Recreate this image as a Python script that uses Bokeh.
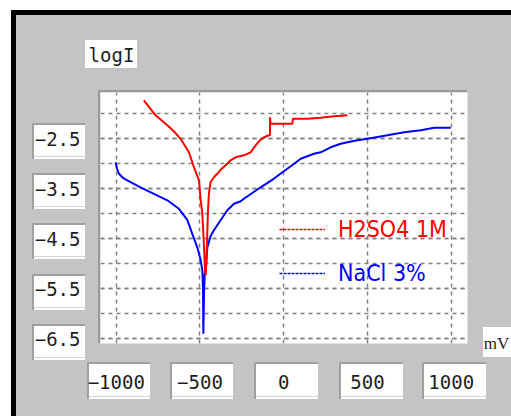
from bokeh.plotting import figure
from bokeh.models import FixedTicker, Label, Legend, LegendItem, Range1d
from bokeh.embed import file_html
from bokeh.resources import INLINE

# ---- data ----
h2so4_mv = [-835, -765, -695, -650, -616, -566, -536, -506, -496, -486, -476, -470, -466,
            -460, -453, -447, -437, -417, -397, -377, -347, -317, -287, -238, -198, -168,
            -140, -118, -88, -82, -82, -78, 0, 51, 55, 141, 220, 300, 380]
h2so4_logi = [-1.73, -2.03, -2.23, -2.37, -2.5, -2.77, -3.07, -3.33, -3.73, -4.0, -4.67, -5.1, -5.23,
              -4.8, -4.0, -3.6, -3.37, -3.27, -3.2, -3.12, -3.03, -2.93, -2.87, -2.83, -2.77, -2.63,
              -2.52, -2.47, -2.43, -2.43, -2.07, -2.2, -2.2, -2.2, -2.1, -2.1, -2.08, -2.05, -2.03]

nacl_mv = [-1004, -995, -984, -960, -934, -855, -775, -695, -626, -576, -546, -516, -496, -486,
           -482, -480, -476, -472, -466, -456, -437, -417, -377, -337, -297, -257, -238, -138,
           -60, -8, 50, 101, 180, 220, 280, 340, 380, 440, 500, 619, 719, 818, 898, 997]
nacl_logi = [-2.97, -3.1, -3.2, -3.28, -3.33, -3.47, -3.6, -3.73, -3.9, -4.12, -4.4, -4.67, -4.93, -5.13,
             -5.5, -6.4, -5.6, -5.2, -5.13, -4.67, -4.45, -4.33, -4.13, -3.93, -3.8, -3.75, -3.7, -3.47,
             -3.3, -3.17, -3.03, -2.9, -2.8, -2.77, -2.67, -2.6, -2.57, -2.53, -2.5, -2.43, -2.37, -2.33, -2.28, -2.28]

x_ticks = [-1000, -500, 0, 500, 1000]
y_ticks = [-2.5, -3.5, -4.5, -5.5, -6.5]
y_grid = [-2.0, -2.5, -3.0, -3.5, -4.0, -4.5, -5.0, -5.5, -6.0, -6.5]
series_names = ["H2SO4 1M", "NaCl 3%"]
y_title = "logI"
x_title = "mV"

BG = "#c4c3c6"
GRID = "#808080"
MONO = "DejaVu Sans Mono"

# ---- page decoration (drawn as CSS background layers behind a transparent border) ----
rects = []  # (x, y, w, h, color) top-most first


def tick_box(x, y, w, h):
    rects.append((x, y, w, 2, "#a0a0a0"))
    rects.append((x, y, 2, h, "#a0a0a0"))
    rects.append((x + 2, y + h - 3, w - 2, 1, "#d6d6d6"))
    rects.append((x, y, w, h, "#ffffff"))


for i in range(5):
    tick_box(32, round(123 + 50.2 * i), 53, 36)
for x0, x1 in [(87, 150), (170, 233), (254, 318), (339, 403), (422, 486)]:
    tick_box(x0, 362, x1 - x0, 37)
rects.append((85, 40, 52, 28, "#ffffff"))      # logI box
rects.append((483, 327, 28, 30, "#ffffff"))    # mV box
rects.append((98, 90, 369, 2, "#9a9a9a"))      # frame top edge
rects.append((98, 90, 2, 253, "#9a9a9a"))      # frame left edge
rects.append((11, 10, 500, 5, "#000000"))      # black border top
rects.append((11, 10, 5, 406, "#000000"))      # black border left
rects.append((0, 0, 511, 10, "#ffffff"))
rects.append((0, 0, 11, 416, "#ffffff"))

css = {
    "background-color": BG,
    "background-repeat": "no-repeat",
    "background-image": ", ".join(f"linear-gradient({c}, {c})" for *_, c in rects),
    "background-position": ", ".join(f"{x}px {y}px" for x, y, *_ in rects),
    "background-size": ", ".join(f"{w}px {h}px" for _, _, w, h, _ in rects),
}

p = figure(width=511, height=416, x_range=Range1d(-1094, 1097), y_range=Range1d(-6.594, -1.574),
           output_backend="svg", toolbar_location=None,
           min_border_left=100, min_border_right=44, min_border_top=92, min_border_bottom=73,
           background_fill_color="white", border_fill_alpha=0, outline_line_color=None,
           styles=css)

xt = FixedTicker(ticks=x_ticks, minor_ticks=[])
yt = FixedTicker(ticks=y_ticks, minor_ticks=y_grid)
p.xaxis.ticker = xt
p.yaxis.ticker = yt
p.xgrid.ticker = xt
p.ygrid.ticker = yt

for ax in (p.xaxis[0], p.yaxis[0]):
    ax.axis_line_color = None
    ax.major_tick_line_color = None
    ax.minor_tick_line_color = None
    ax.major_tick_out = 0
    ax.major_tick_in = 0
    ax.major_label_text_font = MONO
    ax.major_label_text_font_size = "19px"
    ax.major_label_text_color = "#1e1e1e"
p.yaxis.major_label_standoff = 16
p.xaxis.major_label_standoff = 31

for g in (p.xgrid[0], p.ygrid[0]):
    g.grid_line_color = GRID
    g.grid_line_dash = "4 4"
    g.grid_line_width = 1.5
p.ygrid.minor_grid_line_color = GRID
p.ygrid.minor_grid_line_dash = "4 4"
p.ygrid.minor_grid_line_width = 1.5

# axis names, placed in the side panels (not clipped to the frame)
p.add_layout(Label(x=11, y=38, x_units="screen", y_units="screen", text=y_title,
                   text_font=MONO, text_font_size="19px", text_color="#1e1e1e",
                   text_align="center", text_baseline="middle"), "above")
p.add_layout(Label(x=29, y=0, x_units="screen", y_units="screen", text=x_title,
                   text_font="Liberation Serif", text_font_size="17px", text_color="#1e1e1e",
                   text_align="center", text_baseline="middle"), "right")

# data
p.line(nacl_mv, nacl_logi, color="#0000ff", line_width=2)
p.line(h2so4_mv, h2so4_logi, color="#ff0000", line_width=2)

# legend (two separate legends so that each label has its own colour)
for name, color, ly, mv, li in [(series_names[0], "#ff0000", 101, h2so4_mv, h2so4_logi),
                                (series_names[1], "#0000ff", 57, nacl_mv, nacl_logi)]:
    key = p.line(mv[:1], li[:1], line_color=color, line_width=1.5, line_dash="3 1")
    lg = Legend(items=[LegendItem(label=name, renderers=[key])], location=(179, ly),
                label_text_color=color, label_text_font="DejaVu Sans Condensed",
                label_text_font_size="23px", glyph_width=46, glyph_height=20, label_height=20,
                label_standoff=13, padding=0, margin=0, spacing=0,
                border_line_color=None, background_fill_alpha=0)
    p.add_layout(lg)

open("out.html", "w").write(file_html(p, INLINE))
